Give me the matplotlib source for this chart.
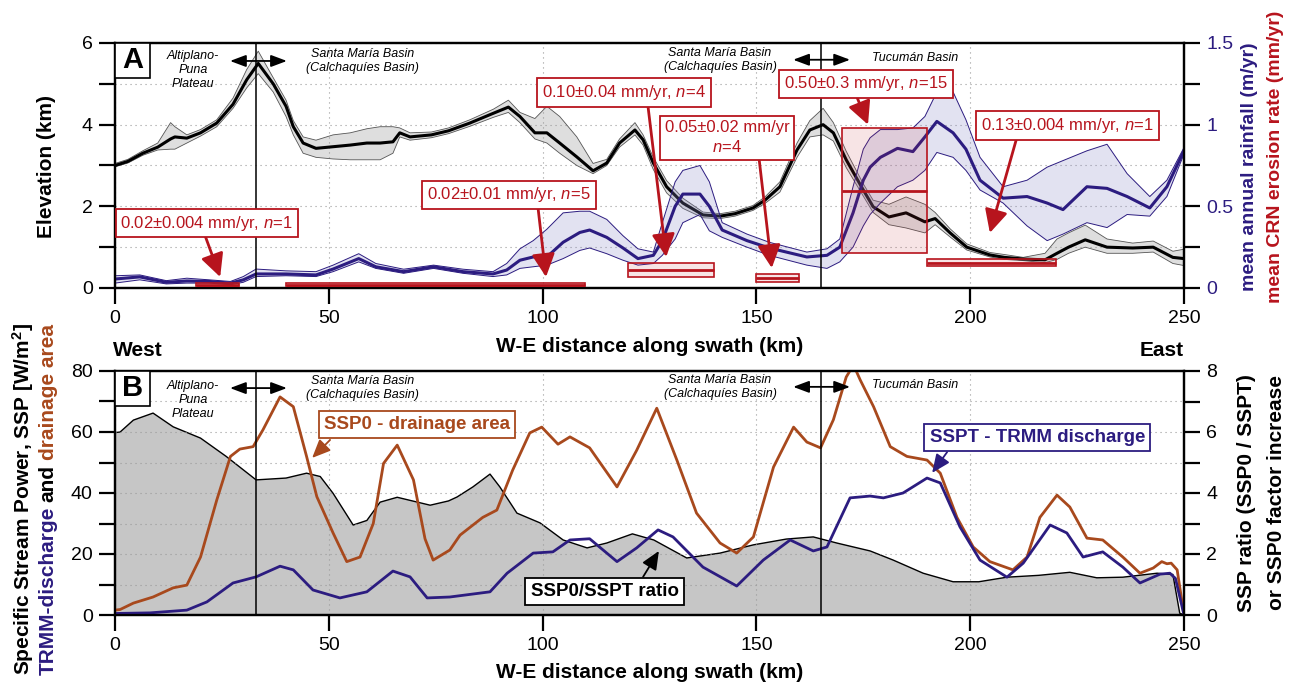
import matplotlib
matplotlib.use('Agg')
import matplotlib.pyplot as plt
from matplotlib.patches import Rectangle
from matplotlib.colors import to_rgba

plt.rcParams['font.family'] = 'Liberation Sans'
plt.rcParams['mathtext.fontset'] = 'custom'
plt.rcParams['mathtext.rm'] = 'Liberation Sans'
plt.rcParams['mathtext.it'] = 'Liberation Sans:italic'
plt.rcParams['mathtext.bf'] = 'Liberation Sans:bold'

NAVY = '#2c1c80'
BROWN = '#a8491d'
RED = '#b7141d'
W, H = 1290, 686

# ---- panel A: elevation swath (km) ----
x_elev = [0, 3, 6.5, 10, 13, 14, 16.8, 20, 23.8, 27.6, 30.8, 33.5, 37, 40, 41.7, 44, 47, 51, 55, 58.9,
          62, 65, 66.6, 69, 74, 78, 83, 88.5, 92, 94.7, 98.2, 101, 104, 108, 111.8, 115, 118, 121.6, 123.5, 125.9,
          129, 132.8, 137.5, 141.5, 145, 149.2, 152, 155.5, 159.5, 162.5, 165.6, 168, 171, 175, 177.3, 181, 185, 189.4, 191.8, 195.3,
          199.2, 204.6, 208, 212.4, 217.5, 220.3, 223, 226.9, 232, 238, 242.8, 247.4, 250]
elev_mean = [3.00, 3.10, 3.30, 3.45, 3.65, 3.70, 3.67, 3.80, 4.04, 4.50, 5.10, 5.50, 5.00, 4.45, 3.95, 3.55, 3.42, 3.46, 3.50, 3.55,
             3.55, 3.58, 3.80, 3.70, 3.75, 3.85, 4.04, 4.28, 4.43, 4.20, 3.80, 3.80, 3.55, 3.21, 2.87, 3.06, 3.55, 3.87, 3.63, 3.06,
             2.48, 2.08, 1.79, 1.76, 1.82, 1.96, 2.15, 2.48, 3.38, 3.87, 4.00, 3.80, 3.14, 2.40, 1.99, 1.74, 1.84, 1.62, 1.70, 1.35,
             1.00, 0.81, 0.75, 0.71, 0.69, 0.85, 1.00, 1.18, 1.00, 0.98, 1.00, 0.75, 0.72]
elev_lo = [2.97, 3.06, 3.25, 3.38, 3.40, 3.40, 3.55, 3.72, 3.95, 4.40, 4.90, 5.25, 4.80, 4.20, 3.75, 3.30, 3.20, 3.16, 3.14, 3.14,
           3.14, 3.30, 3.70, 3.62, 3.68, 3.78, 3.96, 4.18, 4.30, 4.05, 3.65, 3.55, 3.30, 3.00, 2.80, 3.00, 3.45, 3.75, 3.50, 2.90,
           2.33, 1.95, 1.72, 1.70, 1.76, 1.90, 2.07, 2.35, 3.20, 3.70, 3.75, 3.60, 2.95, 2.25, 1.85, 1.55, 1.47, 1.35, 1.55, 1.25,
           0.93, 0.76, 0.70, 0.67, 0.62, 0.70, 0.85, 1.00, 0.85, 0.85, 0.88, 0.60, 0.55]
elev_hi = [3.05, 3.15, 3.36, 3.55, 4.05, 3.95, 3.75, 3.88, 4.12, 4.65, 5.35, 5.80, 5.15, 4.60, 4.10, 3.70, 3.62, 3.75, 3.80, 3.90,
           3.95, 3.95, 3.92, 3.80, 3.82, 3.92, 4.12, 4.38, 4.60, 4.30, 4.15, 4.45, 4.20, 3.70, 3.05, 3.15, 3.65, 4.05, 3.75, 3.20,
           2.63, 2.20, 1.86, 1.82, 1.88, 2.02, 2.23, 2.60, 3.55, 4.10, 4.40, 4.05, 3.35, 2.55, 2.15, 2.05, 2.23, 2.05, 1.85, 1.45,
           1.08, 0.87, 0.82, 0.75, 0.85, 1.20, 1.35, 1.54, 1.20, 1.10, 1.15, 0.90, 0.95]

# ---- panel A: mean annual rainfall (m/yr) ----
x_rain = [0, 5.8, 12, 16.8, 22, 27, 30, 33, 40, 47, 51, 57, 61, 67.5, 74.5, 81.4, 88.4, 91.6, 94.7, 97.8,
          101, 104.8, 108.7, 111, 115, 118.8, 122.3, 125.9, 128, 131, 132.8, 136.8, 139, 142, 147.8, 153, 161.8, 166.5, 169.5, 172.6,
          175, 176.6, 179, 183, 186.6, 189.4, 192.2, 196, 199, 202.3, 207.7, 213.3, 218, 221.7, 227.3, 232, 236.7, 242, 246, 250]
rain_mean = [0.055, 0.068, 0.035, 0.043, 0.04, 0.03, 0.05, 0.086, 0.086, 0.08, 0.116, 0.18, 0.13, 0.10, 0.13, 0.10, 0.086, 0.11, 0.17, 0.19,
             0.19, 0.28, 0.34, 0.355, 0.31, 0.245, 0.18, 0.20, 0.29, 0.50, 0.575, 0.575, 0.50, 0.355, 0.29, 0.245, 0.19, 0.20, 0.25, 0.46,
             0.66, 0.74, 0.80, 0.855, 0.835, 0.925, 1.02, 0.95, 0.85, 0.66, 0.55, 0.56, 0.52, 0.48, 0.62, 0.61, 0.56, 0.49, 0.62, 0.84]
rain_lo = [0.03, 0.05, 0.025, 0.03, 0.03, 0.02, 0.035, 0.07, 0.075, 0.07, 0.10, 0.16, 0.12, 0.09, 0.12, 0.09, 0.07, 0.08, 0.12, 0.13,
           0.14, 0.18, 0.23, 0.245, 0.21, 0.17, 0.14, 0.15, 0.20, 0.30, 0.40, 0.45, 0.35, 0.31, 0.25, 0.20, 0.14, 0.12, 0.16, 0.25,
           0.38, 0.45, 0.52, 0.62, 0.66, 0.72, 0.83, 0.80, 0.72, 0.60, 0.52, 0.38, 0.29, 0.33, 0.40, 0.37, 0.45, 0.44, 0.56, 0.82]
rain_hi = [0.075, 0.08, 0.045, 0.06, 0.05, 0.04, 0.07, 0.116, 0.105, 0.10, 0.14, 0.21, 0.15, 0.115, 0.14, 0.115, 0.10, 0.15, 0.24, 0.29,
           0.36, 0.46, 0.47, 0.47, 0.42, 0.32, 0.24, 0.22, 0.40, 0.65, 0.72, 0.75, 0.65, 0.40, 0.33, 0.28, 0.22, 0.24, 0.30, 0.62,
           0.85, 0.92, 0.97, 0.97, 0.98, 1.05, 1.20, 1.20, 1.03, 0.80, 0.62, 0.66, 0.74, 0.78, 0.84, 0.88, 0.70, 0.56, 0.66, 0.86]

# ---- panel A: CRN erosion rate boxes (mm/yr) ----
ero_x0 = [19, 40, 120, 150, 170, 190]
ero_x1 = [29, 110, 140, 160, 190, 220]
ero_lo = [0.01, 0.01, 0.066, 0.037, 0.214, 0.135]
ero_hi = [0.028, 0.03, 0.153, 0.086, 0.98, 0.18]
ero_mean = [0.02, 0.02, 0.11, 0.063, 0.594, 0.155]
ero_labels = ['0.02\u00b10.004 mm/yr, $\\mathit{n\\!=\\!1}$',
              '0.02\u00b10.01 mm/yr, $\\mathit{n\\!=\\!5}$',
              '0.10\u00b10.04 mm/yr, $\\mathit{n\\!=\\!4}$',
              '0.05\u00b10.02 mm/yr\n$\\mathit{n\\!=\\!4}$',
              '0.50\u00b10.3 mm/yr, $\\mathit{n\\!=\\!15}$',
              '0.13\u00b10.004 mm/yr, $\\mathit{n\\!=\\!1}$']

# ---- panel B: specific stream power ----
x_ratio = [0, 1.2, 4.3, 8.9, 13.6, 20, 26, 33, 40, 44.8, 48, 51, 55.7, 58.9, 62, 66, 73.7, 78, 80, 83.7,
           87.7, 90, 94, 99.4, 104.8, 110.4, 115, 121, 126, 133.7, 141.5, 149.3, 157, 163.3, 168.8, 176.6, 182, 189, 196, 202,
           208.6, 216, 223.3, 229.6, 235.7, 243.7, 247.4, 249, 250]
ssp_ratio = [5.98, 6.0, 6.39, 6.62, 6.17, 5.8, 5.2, 4.43, 4.49, 4.65, 4.54, 3.99, 2.95, 3.1, 3.7, 3.86, 3.6, 3.74, 3.87, 4.2,
             4.62, 4.2, 3.34, 3.02, 2.46, 2.2, 2.36, 2.66, 2.46, 1.87, 2.03, 2.3, 2.49, 2.56, 2.36, 2.1, 1.8, 1.37, 1.09, 1.09,
             1.24, 1.3, 1.4, 1.22, 1.24, 1.37, 1.33, 0.06, 0.0]

x_ssp0 = [0, 1.2, 4.3, 8.9, 13.6, 16.8, 20, 23.8, 27, 29.2, 32.3, 34.6, 38.6, 41.7, 44.8, 47.2, 51, 54.2, 57.3, 60.4,
          62.8, 66, 69.8, 72.5, 74.4, 78.3, 80.7, 86, 89.3, 93, 97, 99.8, 103.6, 106.4, 111, 117.4, 122, 126.7, 131.4, 136,
          141.5, 145.4, 149.3, 154, 158.7, 161.8, 165, 168, 171, 172.7, 174.3, 177.4, 181.3, 185.2, 189.9, 193, 196.9, 200.7, 204.6, 210,
          213.3, 216.3, 220.3, 223.3, 227.3, 231, 235.7, 239.7, 242.8, 244.8, 246, 247, 248.4, 250]
ssp0 = [1.6, 1.8, 3.9, 5.9, 8.9, 9.8, 19, 37.7, 52, 54.4, 55.2, 60.7, 71.5, 68.3, 52, 38.8, 26.9, 17.5, 19, 30,
        49.7, 55.7, 44.3, 25, 18, 21.3, 26.2, 32, 34.4, 47.5, 59.7, 61.6, 56, 58.4, 54.8, 42, 54, 67.8, 50.8, 33.4,
        23.6, 20.3, 25.6, 48.5, 61.6, 56.7, 54.8, 64, 78, 82, 77, 68.3, 55.2, 52, 50.8, 46.5, 32, 22.3, 17.5, 14.8,
        19, 32, 39.3, 35.4, 25.2, 24.6, 19, 13.7, 15.4, 17.5, 16.8, 17, 14.8, 0]

x_sspt = [0, 8.2, 16.8, 21.5, 27.6, 33, 38.6, 41.7, 46.3, 52.6, 58.9, 65, 69, 73, 78.3, 87.7, 91.7, 97.8, 102.4, 106.4,
          111, 117.4, 122, 127, 130.5, 137.5, 145.4, 151.6, 157.9, 163.3, 166.5, 171.9, 176.6, 179.7, 184.3, 189.9, 193, 197.6, 202.3, 208.6,
          212.4, 218.7, 222.6, 226.4, 231, 235.7, 239.7, 244.4, 246.7, 248, 250]
sspt = [0.5, 0.7, 1.6, 4.3, 10.5, 12.5, 16, 14.8, 8.2, 5.6, 7.6, 14.4, 12.5, 5.6, 5.9, 7.6, 13.7, 20.3, 20.7, 24.6,
        25, 17.5, 22, 27.9, 25.6, 15.7, 9.5, 18, 24.6, 21, 22.3, 38.4, 39, 38.4, 40, 44.9, 43.3, 28.9, 18, 12.4,
        17, 29.5, 26.9, 19, 20.7, 15.7, 10.5, 13.4, 13.7, 12, 0]

basin_breaks = [33, 165]

fig = plt.figure(figsize=(W / 100, H / 100), dpi=100)


def px_box(l, t, r, b):
    return [l / W, 1 - b / H, (r - l) / W, (b - t) / H]


def style(a):
    for s in a.spines.values():
        s.set_linewidth(1.6)
    a.tick_params(direction='out', length=11.5, width=1.6, pad=4.5, labelsize=14)


grid_kw = dict(color='#9a9a9a', linestyle=(0, (1, 3.5)), linewidth=0.8)

# ================= panel A =================
ax = fig.add_axes(px_box(115, 43, 1184, 288))
axr = ax.twinx()
for a in (ax, axr):
    style(a)
ax.set_xlim(0, 250)
ax.set_ylim(0, 6)
axr.set_ylim(0, 1.5)
ax.set_xticks(range(0, 251, 50))
ax.set_yticks(range(0, 7))
ax.set_yticklabels(['0', '', '2', '', '4', '', '6'])
axr.set_yticks([0, 0.25, 0.5, 0.75, 1.0, 1.25, 1.5])
axr.set_yticklabels(['0', '', '0.5', '', '1', '', '1.5'])
axr.tick_params(axis='y', labelcolor=NAVY)
ax.grid(True, **grid_kw)

ax.fill_between(x_elev, elev_lo, elev_hi, facecolor='#dedede', edgecolor='none')
ax.plot(x_elev, elev_lo, color='#555555', lw=0.6)
ax.plot(x_elev, elev_hi, color='#555555', lw=0.6)
ax.plot(x_elev, elev_mean, color='black', lw=2.2)

axr.fill_between(x_rain, rain_lo, rain_hi, facecolor=to_rgba('#8c8cc8', 0.25), edgecolor='none')
axr.plot(x_rain, rain_lo, color=NAVY, lw=0.7)
axr.plot(x_rain, rain_hi, color=NAVY, lw=0.7)
axr.plot(x_rain, rain_mean, color=NAVY, lw=2.2)

for x0, x1, lo, hi, m in zip(ero_x0, ero_x1, ero_lo, ero_hi, ero_mean):
    axr.add_patch(Rectangle((x0, lo), x1 - x0, hi - lo, facecolor=to_rgba('#c8323c', 0.13),
                            edgecolor=RED, lw=1.2, zorder=3))
    axr.plot([x0, x1], [m, m], color=RED, lw=2, zorder=3, solid_capstyle='butt')

# label boxes and arrows (positions in elevation km)
box_pos = [(21.5, 1.59), (92.1, 2.28), (119, 4.79), (143.2, 3.68), (175.6, 5.0), (222.7, 3.98)]
arrow_from = [(21.0, 1.30), (98.9, 1.99), (124.6, 4.49), (150.6, 3.19), (173.5, 4.68), (210.9, 3.68)]
arrow_to = [(24.6, 0.27), (100.8, 0.27), (128.9, 0.76), (153.6, 0.49), (176.1, 4.0), (204.6, 1.35)]
for (tx, ty), s, p0, p1 in zip(box_pos, ero_labels, arrow_from, arrow_to):
    axr.annotate('', xy=p1, xytext=p0, xycoords=ax.transData, textcoords=ax.transData,
                 arrowprops=dict(arrowstyle='-|>,head_length=1.0,head_width=0.5', color=RED, lw=2,
                                 mutation_scale=14, shrinkA=0, shrinkB=0), zorder=5)
    axr.text(tx, ty, s, transform=ax.transData, ha='center', va='center', color=RED, fontsize=12,
             linespacing=1.3, zorder=6,
             bbox=dict(boxstyle='square,pad=0.28', fc='white', ec=RED, lw=1.3))

# ================= panel B =================
axb = fig.add_axes(px_box(115, 371, 1184, 615))
axbr = axb.twinx()
axb.set_zorder(axbr.get_zorder() + 1)
axb.patch.set_visible(False)
for a in (axb, axbr):
    style(a)
axb.set_xlim(0, 250)
axb.set_ylim(0, 80)
axbr.set_ylim(0, 8)
axb.set_xticks(range(0, 251, 50))
axb.set_yticks(range(0, 81, 10))
axb.set_yticklabels(['0', '', '20', '', '40', '', '60', '', '80'])
axbr.set_yticks(range(0, 9))
axbr.set_yticklabels(['0', '', '2', '', '4', '', '6', '', '8'])
axb.grid(True, **grid_kw)

axbr.fill_between(x_ratio, 0, ssp_ratio, facecolor='#c6c6c6', edgecolor='none')
axbr.plot(x_ratio, ssp_ratio, color='black', lw=1)
axb.plot(x_ssp0, ssp0, color=BROWN, lw=2)
axb.plot(x_sspt, sspt, color=NAVY, lw=2)

b_boxes = [('SSP0 - drainage area', BROWN, (70.6, 62.5), (50.3, 57.4), (46.1, 51.5)),
           ('SSPT - TRMM discharge', NAVY, (215.7, 58.2), (194.6, 53.4), (191.1, 46.6)),
           ('SSP0/SSPT ratio', 'black', (114.5, 7.7), (123.5, 12.5), (127.2, 21.0))]
for s, c, tp, p0, p1 in b_boxes:
    axb.annotate('', xy=p1, xytext=p0,
                 arrowprops=dict(arrowstyle='-|>,head_length=0.8,head_width=0.35', color=c, lw=1.3,
                                 mutation_scale=14, shrinkA=0, shrinkB=0), zorder=5)
    axb.text(tp[0], tp[1], s, ha='center', va='center', color=c, fontsize=13.5, fontweight='bold', zorder=6,
             bbox=dict(boxstyle='square,pad=0.28', fc='white', ec=c, lw=1.3))

# ================= shared decorations =================
for top_ax, letter in ((axr, 'A'), (axb, 'B')):
    for xb in basin_breaks:
        top_ax.axvline(xb, color='black', lw=1.1, zorder=4)
    rect = Rectangle((0, 1 - 35 / 245), 35 / 1069, 35 / 245, transform=top_ax.transAxes,
                     facecolor='white', edgecolor='black', lw=1.2, zorder=7)
    top_ax.add_patch(rect)
    top_ax.text(17.5 / 1069, 1 - 17.5 / 245, letter, transform=top_ax.transAxes, ha='center', va='center',
                fontsize=21, fontweight='bold', zorder=8)

region_kw = dict(fontsize=9, style='italic', ha='center', va='center', linespacing=1.2, zorder=8)
darrow = dict(arrowstyle='<|-|>,head_length=0.8,head_width=0.3', color='black', lw=1.3, mutation_scale=12,
              shrinkA=0, shrinkB=0)
for a, ys in ((ax, [5.34, 5.56, 5.59, 5.64]), (axb, [70.5, 74.4, 74.8, 75.4])):
    tgt = axr if a is ax else axb
    tr = a.transData
    tgt.text(18.2, ys[0], 'Altiplano-\nPuna\nPlateau', transform=tr, **region_kw)
    tgt.text(57.8, ys[1], 'Santa Mar\u00eda Basin\n(Calchaqu\u00edes Basin)', transform=tr, **region_kw)
    tgt.text(141.5, ys[2], 'Santa Mar\u00eda Basin\n(Calchaqu\u00edes Basin)', transform=tr, **region_kw)
    tgt.text(177, ys[3], 'Tucum\u00e1n Basin', transform=tr, fontsize=9, style='italic',
             ha='left', va='center', zorder=8)
    tgt.annotate('', xy=(26.9, ys[1]), xytext=(40.2, ys[1]), xycoords=tr, textcoords=tr, arrowprops=darrow)
    tgt.annotate('', xy=(158.6, ys[2]), xytext=(171.9, ys[2]), xycoords=tr, textcoords=tr, arrowprops=darrow)

lab = dict(fontsize=15, fontweight='bold')
fig.text(46 / W, 1 - 166 / H, 'Elevation (km)', rotation=90, ha='center', va='center', **lab)
fig.text(1250 / W, 1 - 167 / H, 'mean annual rainfall (m/yr)', rotation=90, ha='center', va='center',
         color=NAVY, fontsize=14, fontweight='bold')
fig.text(1275 / W, 1 - 157 / H, 'mean CRN erosion rate (mm/yr)', rotation=90, ha='center', va='center',
         color=RED, fontsize=14, fontweight='bold')
fig.text(650 / W, 1 - 346 / H, 'W-E distance along swath (km)', ha='center', va='center', **lab)
fig.text(650 / W, 1 - 672 / H, 'W-E distance along swath (km)', ha='center', va='center', **lab)
fig.text(113 / W, 1 - 350 / H, 'West', ha='left', va='center', **lab)
fig.text(1184 / W, 1 - 350 / H, 'East', ha='right', va='center', **lab)
fig.text(1247 / W, 1 - 493 / H, 'SSP ratio (SSP0 / SSPT)', rotation=90, ha='center', va='center', **lab)
fig.text(1276 / W, 1 - 493 / H, 'or SSP0 factor increase', rotation=90, ha='center', va='center', **lab)
fig.text(23 / W, 1 - 675 / H, 'Specific Stream Power, SSP [W/m$^{\\mathbf{2}}$]', rotation=90,
         ha='center', va='bottom', **lab)

# multicoloured second line of the panel B label
fig.canvas.draw()
renderer = fig.canvas.get_renderer()
ypos = 1 - 675 / H
for s, c in (('TRMM-discharge', NAVY), ('and', 'black'), ('drainage area', BROWN)):
    t = fig.text(48 / W, ypos, s, rotation=90, ha='center', va='bottom', color=c, **lab)
    bb = t.get_window_extent(renderer)
    ypos = (bb.y1 + 5) / fig.bbox.height

fig.savefig('out.png', dpi=100)
